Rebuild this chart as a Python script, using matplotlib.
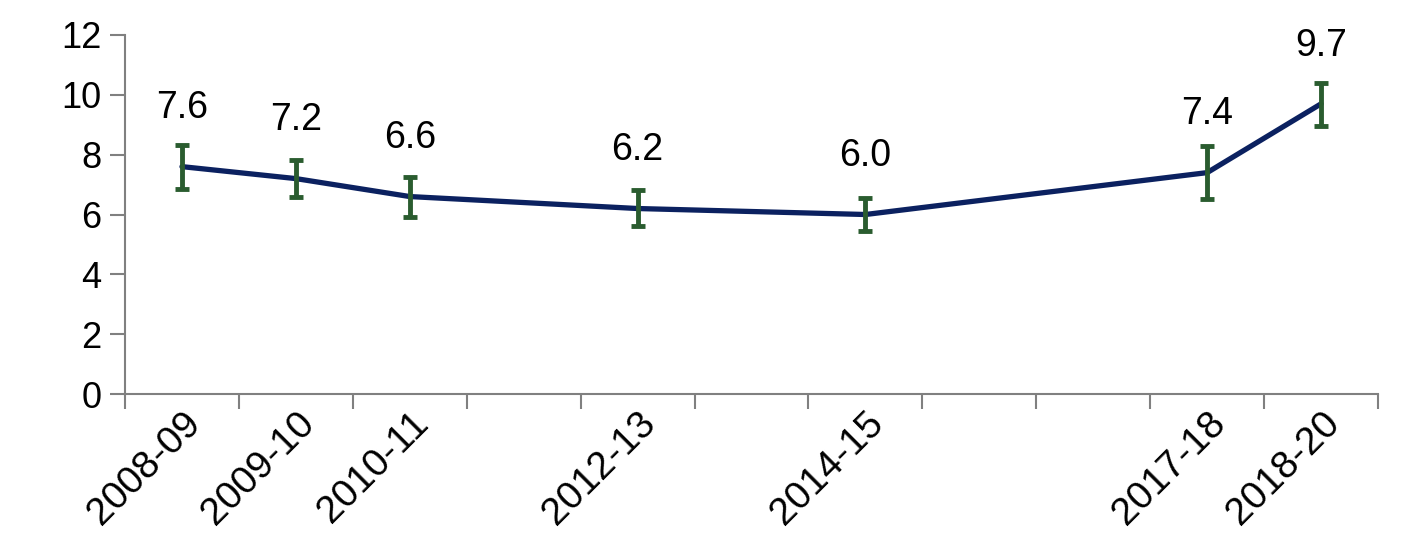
import numpy as np
import matplotlib.pyplot as plt

plt.rcParams['font.family'] = ['Liberation Sans', 'DejaVu Sans']

# category slots along the x axis (only some have data)
categories = ['2008-09', '2009-10', '2010-11', '2011-12', '2012-13', '2013-14',
              '2014-15', '2015-16', '2016-17', '2017-18', '2018-20']
shown_labels = ['2008-09', '2009-10', '2010-11', '', '2012-13', '',
                '2014-15', '', '', '2017-18', '2018-20']

years = ['2008-09', '2009-10', '2010-11', '2012-13', '2014-15', '2017-18', '2018-20']
values = [7.6, 7.2, 6.6, 6.2, 6.0, 7.4, 9.7]
lower = [6.86, 6.59, 5.93, 5.60, 5.46, 6.52, 8.96]
upper = [8.32, 7.83, 7.27, 6.82, 6.54, 8.29, 10.41]

xpos = np.array([categories.index(y) for y in years])
vals = np.array(values)
yerr = np.vstack([vals - np.array(lower), np.array(upper) - vals])

fig = plt.figure(figsize=(14.08, 5.6), dpi=100)
ax = fig.add_axes([0.0888, 0.2964, 0.8899, 0.6411])

ax.plot(xpos, vals, color='#0b2160', lw=3.8, solid_capstyle='round', zorder=2)
ax.errorbar(xpos, vals, yerr=yerr, fmt='none', ecolor='#2a5c2f',
            elinewidth=3.5, capsize=5, capthick=3.5, zorder=3)

for x, v in zip(xpos, vals):
    ax.annotate('%.1f' % v, (x, v), xytext=(0, 29), textcoords='offset points',
                ha='center', va='bottom', fontsize=27)

ax.set_xlim(-0.5, len(categories) - 0.5)
ax.set_ylim(0, 12)
ax.set_yticks(np.arange(0, 13, 2))
ax.set_xticks(np.arange(len(categories)))
ax.set_xticklabels(shown_labels, rotation=45, ha='right', rotation_mode='anchor',
                   fontsize=28)
ax.set_xticks(np.arange(len(categories) + 1) - 0.5, minor=True)
ax.tick_params(axis='x', which='major', length=0, pad=8)
ax.tick_params(axis='x', which='minor', length=11, width=1.5, color='#808080')
ax.tick_params(axis='y', length=11, width=1.5, color='#808080', labelsize=26, pad=6)

for s in ['top', 'right']:
    ax.spines[s].set_visible(False)
for s in ['left', 'bottom']:
    ax.spines[s].set_color('#808080')
    ax.spines[s].set_linewidth(1.5)

fig.savefig('out.png', dpi=100)
